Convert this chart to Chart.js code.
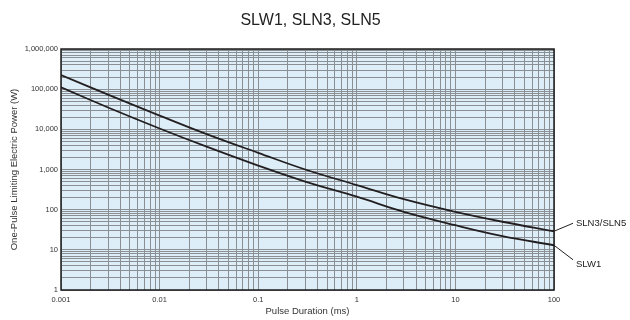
<!DOCTYPE html>
<html>
<head>
<meta charset="utf-8">
<script src="https://cdn.jsdelivr.net/npm/chart.js@4/dist/chart.umd.min.js"></script>
<style>
  html, body { margin: 0; padding: 0; background: #ffffff; }
  #wrap { width: 630px; height: 320px; position: relative; }
</style>
</head>
<body>
<div id="wrap"><canvas id="chart"></canvas></div>
<script>
// Pulse duration (ms) sample points
var durations = [0.001, 0.003, 0.01, 0.03, 0.1, 0.3, 1, 3, 10, 30, 100];

// One-pulse limiting electric power (W)
var slnPower = [224000, 73000, 22000, 7600, 2600, 1000, 410, 182, 88, 50, 29];
var slwPower = [111000, 35000, 10500, 3700, 1250, 500, 210, 88, 41, 22, 13];

// Decade tick labels
var xDecades = [0.001, 0.01, 0.1, 1, 10, 100];
var xTickLabels = ['0.001', '0.01', '0.1', '1', '10', '100'];
var yDecades = [1, 10, 100, 1000, 10000, 100000, 1000000];
var yTickLabels = ['1', '10', '100', '1,000', '10,000', '100,000', '1,000,000'];

var seriesNames = ['SLN3/SLN5', 'SLW1'];
var chartTitle = 'SLW1, SLN3, SLN5';

var FONT = '"Liberation Sans", Arial, Helvetica, sans-serif';
var GRID = '#8a8f94';
var INK = '#231f20';

function toPoints(values) {
	return durations.map(function(d, i) { return { x: d, y: values[i] }; });
}

// 1..9 x 10^n ticks so every minor grid line is drawn
function logTicks(decades) {
	var ticks = [];
	decades.forEach(function(d, i) {
		if (i === decades.length - 1) {
			ticks.push({ value: d });
			return;
		}
		for (var m = 1; m <= 9; m++) {
			ticks.push({ value: m === 1 ? d : m * d });
		}
	});
	return ticks;
}

function decadeLabel(decades, labels, value) {
	for (var i = 0; i < decades.length; i++) {
		if (Math.abs(decades[i] - value) < decades[i] * 1e-9) {
			return labels[i];
		}
	}
	return '';
}

var framePlugin = {
	id: 'frame',
	beforeDraw: function(chart) {
		var a = chart.chartArea;
		var ctx = chart.ctx;
		ctx.save();
		ctx.fillStyle = '#ddeef8';
		ctx.fillRect(a.left, a.top, a.right - a.left, a.bottom - a.top);
		ctx.restore();
	},
	afterDraw: function(chart) {
		var a = chart.chartArea;
		var ctx = chart.ctx;
		var xs = chart.scales.x;
		var ys = chart.scales.y;
		ctx.save();

		// plot frame
		ctx.strokeStyle = '#1d1d1d';
		ctx.lineWidth = 1.5;
		ctx.strokeRect(a.left, a.top, a.right - a.left, a.bottom - a.top);

		// title
		ctx.fillStyle = '#222222';
		ctx.font = '16px ' + FONT;
		ctx.textAlign = 'center';
		ctx.textBaseline = 'middle';
		ctx.fillText(chartTitle, (a.left + a.right) / 2 + 3, 21);

		// series labels with leader lines from the curve ends
		var last = durations.length - 1;
		var ex = xs.getPixelForValue(durations[last]);
		var ends = [
			{ y: ys.getPixelForValue(slnPower[last]), dy: -8, ty: -8 },
			{ y: ys.getPixelForValue(slwPower[last]), dy: 14.5, ty: 19 }
		];
		ctx.strokeStyle = INK;
		ctx.lineWidth = 1;
		ctx.font = '9.5px ' + FONT;
		ctx.textAlign = 'left';
		ends.forEach(function(e, i) {
			ctx.beginPath();
			ctx.moveTo(ex, e.y);
			ctx.lineTo(ex + 19, e.y + e.dy);
			ctx.stroke();
			ctx.fillStyle = '#222222';
			ctx.fillText(seriesNames[i], ex + 22, e.y + e.ty);
		});
		ctx.restore();
	}
};

new Chart(document.getElementById('chart').getContext('2d'), {
	type: 'line',
	data: {
		datasets: [
			{
				label: seriesNames[0],
				data: toPoints(slnPower),
				borderColor: INK,
				borderWidth: 1.8,
				pointRadius: 0,
				tension: 0.4
			},
			{
				label: seriesNames[1],
				data: toPoints(slwPower),
				borderColor: INK,
				borderWidth: 1.8,
				pointRadius: 0,
				tension: 0.4
			}
		]
	},
	options: {
		responsive: true,
		maintainAspectRatio: false,
		animation: false,
		layout: { padding: { top: 49, right: 76, bottom: 0, left: 0 } },
		plugins: {
			legend: { display: false },
			title: { display: false },
			tooltip: { enabled: false }
		},
		scales: {
			x: {
				type: 'logarithmic',
				min: 0.001,
				max: 100,
				afterBuildTicks: function(scale) { scale.ticks = logTicks(xDecades); },
				afterFit: function(scale) { scale.height = 30; },
				grid: { color: GRID, lineWidth: 1, drawTicks: false },
				border: { display: false },
				ticks: {
					autoSkip: false,
					maxRotation: 0,
					padding: 5,
					color: '#333333',
					font: { family: FONT, size: 7.5 },
					callback: function(value) { return decadeLabel(xDecades, xTickLabels, value); }
				},
				title: {
					display: true,
					text: 'Pulse Duration (ms)',
					color: '#333333',
					font: { family: FONT, size: 9.5 },
					padding: { top: 0, bottom: 3.3 }
				}
			},
			y: {
				type: 'logarithmic',
				min: 1,
				max: 1000000,
				afterBuildTicks: function(scale) { scale.ticks = logTicks(yDecades); },
				afterFit: function(scale) { scale.width = 61; },
				grid: { color: GRID, lineWidth: 1, drawTicks: false },
				border: { display: false },
				ticks: {
					autoSkip: false,
					padding: 3,
					color: '#333333',
					font: { family: FONT, size: 7.5 },
					callback: function(value) { return decadeLabel(yDecades, yTickLabels, value); }
				},
				title: {
					display: true,
					text: 'One-Pulse Limiting Electric Power (W)',
					color: '#333333',
					font: { family: FONT, size: 9.5 },
					padding: { top: 9, bottom: 0 }
				}
			}
		}
	},
	plugins: [framePlugin]
});
</script>
</body>
</html>
